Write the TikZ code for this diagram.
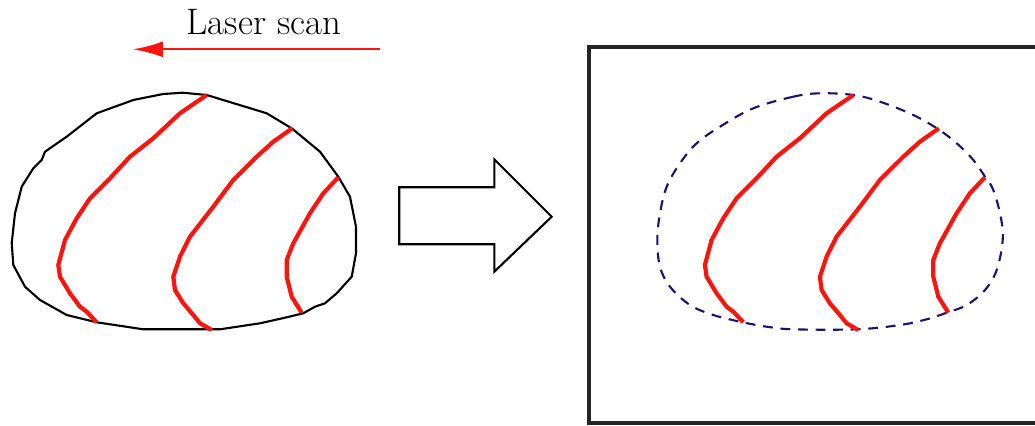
\documentclass[tikz,border=0pt]{standalone}
\usetikzlibrary{arrows.meta}
\definecolor{scanred}{RGB}{250,22,14}
\definecolor{outnavy}{RGB}{28,16,112}
\definecolor{framegray}{RGB}{36,36,36}
\tikzset{
  stripe/.style={scanred,line width=2.4pt,line join=round},
  outline/.style={black,line width=1.2pt,line join=round},
  dashline/.style={outnavy,line width=1.2pt,dash pattern=on 5.6pt off 4.4pt},
}
\begin{document}
\begin{tikzpicture}[x=0.02cm,y=-0.02cm]
\clip (0,0) rectangle (1035,426);
\node (label) at (264,22) {\fontsize{21}{24}\selectfont Laser scan};
\coordinate (scanA) at (380,49.3);
\coordinate (scanB) at (133,49.3);
\draw[scanred,line width=1.3pt,-{Latex[length=17pt,width=9pt]}] (scanA) -- (scanB);
\draw[outline] (182.7,92.7) -- (206.7,95) -- (266.7,113.3) -- (291.7,128.3) -- (320,151.7)
  -- (338.3,176.7) -- (350,196.7) -- (356,226.7) -- (356,253.3) -- (351.7,276.7)
  -- (336.7,293.3) -- (325,303.3) -- (315,306.7) -- (303.3,313.3) -- (286.7,317.3)
  -- (260,323.3) -- (220,329.3) -- (143.3,329.3) -- (96.7,322.3) -- (66.7,315)
  -- (40,300) -- (25,286.7) -- (13.3,265) -- (11.7,243) -- (15,213.3) -- (21.7,186.7)
  -- (33.3,168.3) -- (41.7,160) -- (45,151.7) -- (66.7,136.7) -- (96.7,113.3)
  -- (133.3,100) -- (163.3,94) -- cycle;
\draw[dashline] plot[smooth cycle,tension=0.6] coordinates {(820,93.3) (793.3,96.7)
  (753.3,108.3) (720,126.7) (696.7,143.3) (680,163.3) (666.7,186.7) (660,213.3)
  (657.3,240) (660,266.7) (670,286.7) (690,305) (713.3,315) (740,321.7) (766.7,326.7)
  (793.3,329.3) (856.7,329.3) (900,325) (926.7,319.3) (946.7,312.7) (966.7,305)
  (985,290) (996.7,270) (1002.7,240) (1000.7,216.7) (993.3,190) (985,176.7)
  (973.3,160) (956.7,143.3) (938.3,129.3) (913.3,115) (880,101.7) (853.3,95)};
\foreach \dx in {0,646.6}{
\begin{scope}[shift={(\dx,0)}]
\draw[stripe] (206.7,95) -- (180,113.3) -- (153.3,138.3) -- (130,156.7) -- (110,178.3)
  -- (90,198.3) -- (76.7,218.3) -- (65,240) -- (58.3,265) -- (60,276.7) -- (70,293.3)
  -- (80,306.7) -- (86.7,311.7) -- (96.7,322.3);
\draw[stripe] (292.3,128.3) -- (273.3,141.7) -- (256.7,156.7) -- (233.3,180)
  -- (213.3,206.7) -- (190,236.7) -- (180,256.7) -- (173.3,276.7) -- (175,290)
  -- (183.3,303.3) -- (193.3,315) -- (200,323.3) -- (211.7,330);
\draw[stripe] (338.3,177.3) -- (323.3,193.3) -- (310,213.3) -- (293.3,243.3)
  -- (286.7,260) -- (286.7,276.7) -- (291.7,296.7) -- (301.7,312.7);
\end{scope}}
\draw[outline,line join=miter] (399.3,187.3) -- (494.3,187.3) -- (494.3,159.3) -- (551.7,216.7)
  -- (494.3,271.7) -- (494.3,244.3) -- (399.3,244.3) -- cycle;
\draw[framegray,line width=2.4pt] (589.3,46.7) rectangle (1045,423.3);
\end{tikzpicture}
\end{document}
